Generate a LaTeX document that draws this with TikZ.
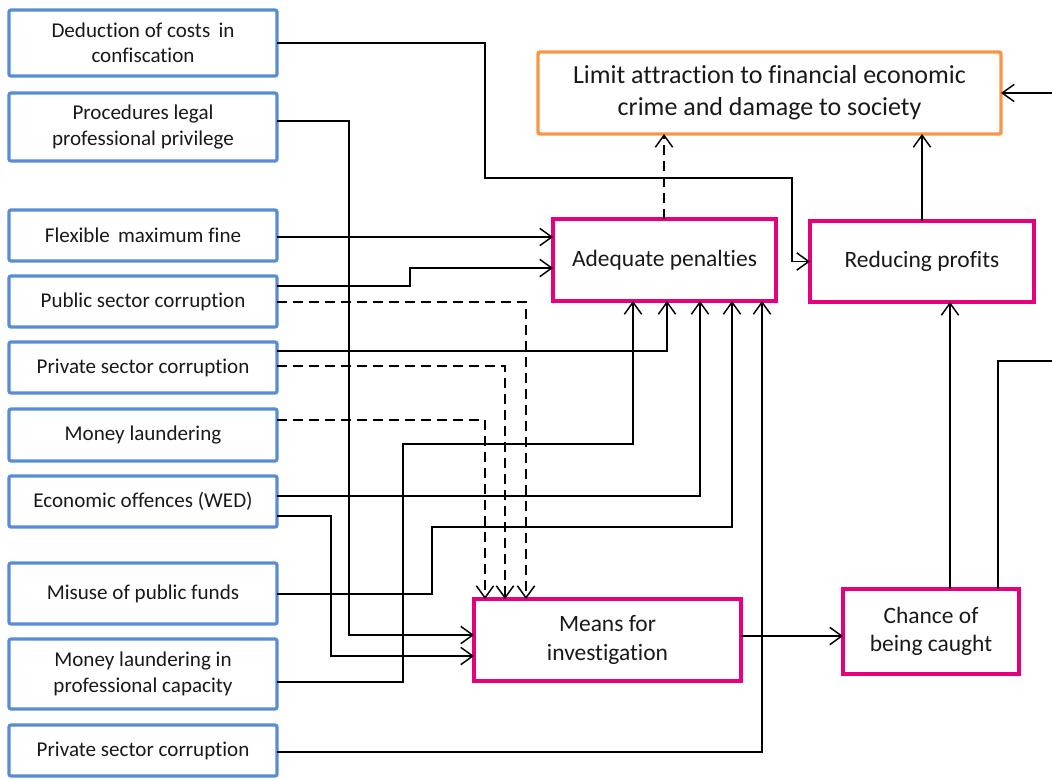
\documentclass[tikz,border=0pt]{standalone}
\usepackage{fontspec}
\setmainfont{Carlito}[Ligatures=NoCommon]
\usetikzlibrary{arrows.meta}
\definecolor{lblue}{RGB}{88,140,212}
\definecolor{mag}{RGB}{230,0,126}
\definecolor{org}{RGB}{247,150,70}
\definecolor{txt}{RGB}{25,25,25}
\tikzset{
  src/.style={draw=lblue, line width=2.4pt, rounded corners=1.5pt, minimum width=268*0.75pt, align=center, text=txt, font=\fontsize{15.8}{19}\selectfont, inner sep=0pt, outer sep=0pt},
  mid/.style={draw=mag, line width=2.6pt, align=center, text=txt, font=\fontsize{17.6}{21.5}\selectfont, inner sep=0pt, outer sep=0pt},
  goal/.style={draw=org, line width=2.6pt, rounded corners=1.5pt, align=center, text=txt, font=\fontsize{19.5}{24}\selectfont, inner sep=0pt, outer sep=0pt},
  arr/.style={-{Straight Barb[length=9pt,width=13pt,line width=1.1pt]}, line width=1.1pt},
  dsh/.style={dash pattern=on 7.5pt off 4.5pt}
}
\begin{document}
\begin{tikzpicture}[x=0.75pt,y=-0.75pt]
\useasboundingbox (0,0) rectangle (1052,779);
% source boxes
\node[src, minimum height=66*0.75pt] (b1) at (143,43) {Deduction of costs\, in\\confiscation};
\node[src, minimum height=68*0.75pt] (b2) at (143,127) {Procedures legal\\professional privilege};
\node[src, minimum height=51*0.75pt] (b3) at (143,235.5) {Flexible\, maximum fine};
\node[src, minimum height=51*0.75pt] (b4) at (143,301.5) {Public sector corruption};
\node[src, minimum height=51*0.75pt] (b5) at (143,367.5) {Private sector corruption};
\node[src, minimum height=52*0.75pt] (b6) at (143,435) {Money laundering};
\node[src, minimum height=51*0.75pt] (b7) at (143,501.5) {Economic offences (WED)};
\node[src, minimum height=61*0.75pt] (b8) at (143,593.5) {Misuse of public funds};
\node[src, minimum height=70*0.75pt] (b9) at (143,674) {Money laundering in\\professional capacity};
\node[src, minimum height=51*0.75pt] (b10) at (143,750.5) {Private sector corruption};
% middle boxes
\node[goal, minimum width=463*0.75pt, minimum height=82*0.75pt] (lim) at (769.5,93) {Limit attraction to financial economic\\crime and damage to society};
\node[mid, minimum width=223*0.75pt, minimum height=82*0.75pt] (ap) at (664.5,260) {Adequate penalties};
\node[mid, minimum width=224*0.75pt, minimum height=81*0.75pt] (rp) at (922,261.5) {Reducing profits};
\node[mid, minimum width=267*0.75pt, minimum height=82*0.75pt] (mi) at (607.5,640) {Means for\\investigation};
\node[mid, minimum width=176*0.75pt, minimum height=85*0.75pt] (ch) at (931,631.5) {Chance of\\being caught};
\coordinate (fr) at (1052,361);
\coordinate (fl) at (1052,93);
% connectors
\draw[arr] (b1.east) -| (485,178) -| (792,261.5) -- (rp.west);
\draw[arr] (b2.east |- 0,121) -| (349,635) -- (mi.west |- 0,635);
\draw[arr] (b3.east |- 0,237) -- (ap.west |- 0,237);
\draw[arr] (b4.east |- 0,286) -| (410,268) -- (ap.west |- 0,268);
\draw[arr,dsh] (b4.east |- 0,302) -| (mi.north -| 526,0);
\draw[arr] (b5.east |- 0,351) -| (ap.south -| 667,0);
\draw[arr,dsh] (b5.east |- 0,366) -| (mi.north -| 505,0);
\draw[arr,dsh] (b6.east |- 0,420) -| (mi.north -| 485,0);
\draw[arr] (b7.east |- 0,496) -| (ap.south -| 700,0);
\draw[arr] (b7.east |- 0,516) -| (331,656) -- (mi.west |- 0,656);
\draw[arr] (b8.east |- 0,594) -| (432,527) -| (ap.south -| 732,0);
\draw[arr] (b9.east |- 0,682) -| (403,444) -| (ap.south -| 633,0);
\draw[arr] (b10.east |- 0,752) -| (ap.south -| 762,0);
\draw[arr] (mi.east |- 0,636) -- (ch.west |- 0,636);
\draw[arr] (ch.north -| 950,0) -- (rp.south -| 950,0);
\draw[line width=1.1pt] (ch.north -| 998,0) |- (fr);
\draw[arr] (fl) -- (lim.east);
\draw[arr,dsh] (ap.north -| 664,0) -- (lim.south -| 664,0);
\draw[arr] (rp.north -| 922,0) -- (lim.south -| 922,0);
\end{tikzpicture}
\end{document}
